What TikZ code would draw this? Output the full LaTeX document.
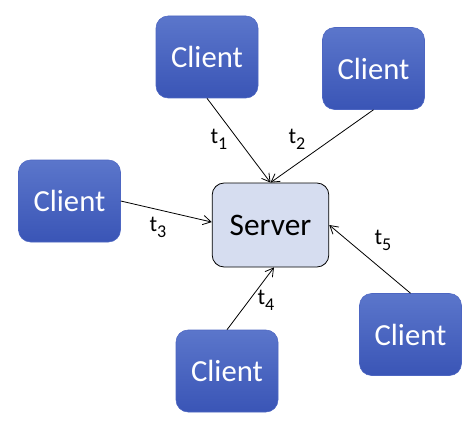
\documentclass[tikz,border=0pt]{standalone}
\usepackage{fontspec}
\setmainfont{Carlito}
\usetikzlibrary{arrows.meta}
\definecolor{cltop}{HTML}{5B76CB}
\definecolor{clbot}{HTML}{3A55B6}
\definecolor{cledge}{HTML}{4D66C2}
\definecolor{srvfill}{HTML}{D6DDF0}
\tikzset{
  client/.style={rounded corners=9pt,top color=cltop,bottom color=clbot,draw=cledge,line width=0.4pt,
    text=white,font=\fontsize{23}{26}\selectfont,minimum width=76.5pt,minimum height=61.5pt,inner sep=0pt},
  server/.style={rounded corners=9pt,fill=srvfill,draw=black,line width=0.6pt,
    font=\fontsize{23.5}{26}\selectfont,minimum width=87.5pt,minimum height=63pt,inner sep=0pt},
  msg/.style={line width=0.6pt,-{Straight Barb[length=6pt,width=7pt]}},
  tlab/.style={font=\fontsize{17}{19}\selectfont,inner sep=0pt}
}
\newcommand{\tl}[1]{t\raisebox{-4.5pt}{\fontsize{13.5}{15}\selectfont #1}}

\begin{document}
\begin{tikzpicture}[x=0.75pt,y=-0.75pt]
\useasboundingbox (0,0) rectangle (471,435);
\node[server] (srv) at (270.5,225) {Server};
\node[client] (c1) at (207,57) {Client};
\node[client] (c2) at (373.5,68.5) {Client};
\node[client] (c3) at (69.5,201) {Client};
\node[client] (c4) at (227,371) {Client};
\node[client] (c5) at (410.5,334.5) {Client};
\draw[msg] (c1.south) -- (srv.north); \node[tlab] (t1) at (219,139) {\tl{1}};
\draw[msg] (c2.south) -- (srv.north); \node[tlab] (t2) at (297,139) {\tl{2}};
\draw[msg] (c3.east) -- ([yshift=2.2pt]srv.west); \node[tlab] (t3) at (158,227) {\tl{3}};
\draw[msg] (c4.north) -- ([xshift=2.6pt]srv.south); \node[tlab] (t4) at (266,300) {\tl{4}};
\draw[msg] (c5.north) -- (srv.east); \node[tlab] (t5) at (383,240) {\tl{5}};
\end{tikzpicture}
\end{document}
